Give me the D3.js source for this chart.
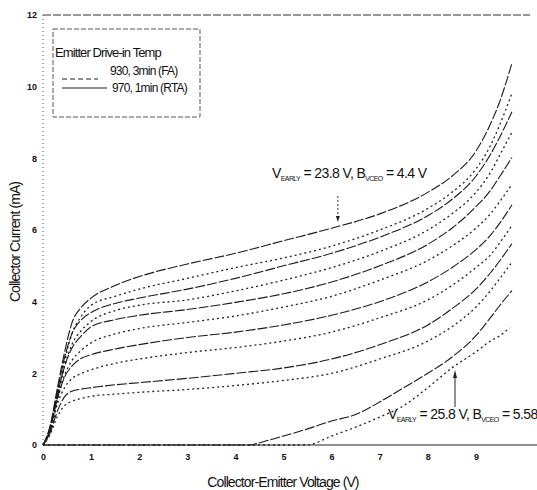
<!DOCTYPE html>
<html>
<head>
<meta charset="utf-8">
<script src="https://cdn.jsdelivr.net/npm/d3@7"></script>
<style>
  body { margin: 0; background: #fff; }
  text { font-family: "Liberation Sans Narrow", "Arial Narrow", "Liberation Sans", sans-serif; fill: #111; }
</style>
</head>
<body>
<div id="chart"></div>
<script>
// Voltage grid shared by the five upper curve pairs (V)
const vGrid = [0, 0.15, 0.3, 0.45, 0.6, 0.8, 1.0, 1.5, 2, 3, 4, 5, 6, 7, 8, 8.5, 9, 9.3, 9.5, 9.75];

// Collector current (mA), 970C 1min RTA (solid)
const rta1 = [0, 0.55, 1.6, 2.6, 3.4, 3.85, 4.1, 4.45, 4.7, 5.05, 5.35, 5.7, 6.05, 6.45, 7.05, 7.5, 8.2, 8.95, 9.6, 10.66];
const rta2 = [0, 0.5, 1.5, 2.45, 3.1, 3.5, 3.7, 3.95, 4.1, 4.35, 4.65, 5.0, 5.35, 5.8, 6.4, 6.85, 7.5, 8.1, 8.6, 9.3];
const rta3 = [0, 0.45, 1.4, 2.2, 2.7, 3.05, 3.3, 3.5, 3.62, 3.78, 3.98, 4.22, 4.55, 5.0, 5.6, 6.05, 6.65, 7.1, 7.5, 8.03];
const rta4 = [0, 0.42, 1.3, 1.9, 2.2, 2.42, 2.52, 2.68, 2.8, 3.0, 3.15, 3.35, 3.62, 4.0, 4.55, 4.95, 5.45, 5.85, 6.2, 6.7];
const rta5 = [0, 0.35, 0.95, 1.35, 1.5, 1.56, 1.6, 1.68, 1.74, 1.86, 2.0, 2.15, 2.4, 2.8, 3.35, 3.8, 4.35, 4.8, 5.15, 5.62];

// Collector current (mA), 930C 3min FA (dashed)
const fa1 = [0, 0.45, 1.4, 2.35, 3.1, 3.6, 3.9, 4.15, 4.35, 4.65, 4.95, 5.22, 5.55, 6.0, 6.6, 7.05, 7.7, 8.35, 8.95, 9.82];
const fa2 = [0, 0.42, 1.3, 2.2, 2.8, 3.2, 3.45, 3.75, 3.9, 4.05, 4.3, 4.6, 4.95, 5.4, 6.0, 6.45, 7.05, 7.6, 8.1, 8.73];
const fa3 = [0, 0.4, 1.25, 1.95, 2.35, 2.65, 2.85, 3.1, 3.25, 3.42, 3.6, 3.85, 4.15, 4.6, 5.15, 5.55, 6.05, 6.45, 6.8, 7.27];
const fa4 = [0, 0.38, 1.15, 1.6, 1.85, 2.0, 2.1, 2.28, 2.4, 2.58, 2.72, 2.9, 3.15, 3.55, 4.05, 4.45, 4.95, 5.3, 5.65, 6.13];
const fa5 = [0, 0.3, 0.8, 1.1, 1.22, 1.3, 1.36, 1.42, 1.47, 1.55, 1.66, 1.8, 2.0, 2.4, 2.9, 3.3, 3.85, 4.3, 4.65, 5.1];

// Lowest pair (breakdown-only curves)
const rta6V = [0, 4.26, 4.6, 5, 5.5, 6, 6.5, 7, 7.5, 8, 8.5, 9, 9.3, 9.5, 9.75];
const rta6 = [0, 0, 0.1, 0.25, 0.45, 0.67, 0.85, 1.2, 1.6, 2.0, 2.45, 3.05, 3.55, 3.9, 4.31];
const fa6V = [0, 5.48, 6, 6.5, 7, 7.5, 8, 8.5, 9, 9.3, 9.5, 9.7];
const fa6 = [0, 0, 0.25, 0.5, 0.78, 1.1, 1.6, 2.15, 2.6, 2.9, 3.05, 3.27];

const xTicks = [0, 1, 2, 3, 4, 5, 6, 7, 8, 9];
const yTicks = [0, 2, 4, 6, 8, 10, 12];
const legendTitle = "Emitter Drive-in Temp";
const legendLabels = ["930, 3min (FA)", "970, 1min (RTA)"];

const width = 537, height = 490;
const svg = d3.select("#chart").append("svg")
    .attr("width", width)
    .attr("height", height);

const x = d3.scaleLinear().domain([0, 10]).range([43, 524]);
const y = d3.scaleLinear().domain([0, 12]).range([445, 15]);

const toPts = (vs, is) => vs.map((v, i) => ({ v: v, i: is[i] }));
const series = [
    { pts: toPts(vGrid, rta1), type: "RTA" },
    { pts: toPts(vGrid, fa1), type: "FA" },
    { pts: toPts(vGrid, rta2), type: "RTA" },
    { pts: toPts(vGrid, fa2), type: "FA" },
    { pts: toPts(vGrid, rta3), type: "RTA" },
    { pts: toPts(vGrid, fa3), type: "FA" },
    { pts: toPts(vGrid, rta4), type: "RTA" },
    { pts: toPts(vGrid, fa4), type: "FA" },
    { pts: toPts(vGrid, rta5), type: "RTA" },
    { pts: toPts(vGrid, fa5), type: "FA" },
    { pts: toPts(rta6V, rta6), type: "RTA" },
    { pts: toPts(fa6V, fa6), type: "FA" }
];

// Frame: top line and left axis (dotted, like the scan)
svg.append("line")
    .attr("x1", x(0)).attr("x2", 530)
    .attr("y1", y(12)).attr("y2", y(12))
    .attr("stroke", "#333").attr("stroke-width", 1)
    .attr("stroke-dasharray", "8,2");
svg.append("line")
    .attr("x1", x(0)).attr("x2", x(0))
    .attr("y1", y(12)).attr("y2", y(0))
    .attr("stroke", "#555").attr("stroke-width", 1)
    .attr("stroke-dasharray", "1,3");

// X axis
const xAxis = svg.append("g")
    .attr("transform", `translate(0,${y(0)})`)
    .call(d3.axisBottom(x).tickValues(xTicks).tickSize(0).tickPadding(9).tickFormat(d3.format("d")));
xAxis.select(".domain").attr("stroke", "#222").attr("stroke-width", 1.2).attr("d", `M${x(0)},0H537`);
xAxis.selectAll("text").style("font-size", "9px").style("font-weight", "bold");

// Y axis labels
const yAxis = svg.append("g")
    .attr("transform", `translate(${x(0)},0)`)
    .call(d3.axisLeft(y).tickValues(yTicks).tickSize(0).tickPadding(6).tickFormat(d3.format("d")));
yAxis.select(".domain").remove();
yAxis.selectAll("text").style("font-size", "9px").style("font-weight", "bold");

// Axis titles
svg.append("text")
    .attr("x", 283).attr("y", 487)
    .attr("text-anchor", "middle")
    .style("font-size", "14px").style("letter-spacing", "-0.9px")
    .text("Collector-Emitter Voltage (V)");
svg.append("text")
    .attr("transform", "translate(20,242) rotate(-90)")
    .attr("text-anchor", "middle")
    .style("font-size", "14px").style("letter-spacing", "-0.9px")
    .text("Collector Current (mA)");

// Curves
const line = d3.line()
    .x(d => x(d.v))
    .y(d => y(d.i))
    .curve(d3.curveMonotoneX);

svg.selectAll("path.curve")
    .data(series)
    .join("path")
    .attr("class", "curve")
    .attr("fill", "none")
    .attr("stroke", d => d.type === "RTA" ? "#1a1a1a" : "#222")
    .attr("stroke-width", d => d.type === "RTA" ? 1.1 : 1.3)
    .attr("stroke-dasharray", d => d.type === "RTA" ? "10,2" : "2,3")
    .attr("d", d => line(d.pts));

// Legend
const lg = svg.append("g");
lg.append("rect")
    .attr("x", 53).attr("y", 29).attr("width", 147).attr("height", 88)
    .attr("fill", "none").attr("stroke", "#444").attr("stroke-width", 0.9)
    .attr("stroke-dasharray", "5,2");
lg.append("text")
    .attr("x", 55).attr("y", 57)
    .style("font-size", "13px").style("letter-spacing", "-0.9px")
    .text(legendTitle);
lg.append("line")
    .attr("x1", 62).attr("x2", 98).attr("y1", 79).attr("y2", 79)
    .attr("stroke", "#222").attr("stroke-width", 1).attr("stroke-dasharray", "5,3");
lg.append("text")
    .attr("x", 110).attr("y", 75)
    .style("font-size", "12px").style("letter-spacing", "-0.8px")
    .text(legendLabels[0]);
lg.append("line")
    .attr("x1", 62).attr("x2", 107).attr("y1", 88).attr("y2", 88)
    .attr("stroke", "#222").attr("stroke-width", 1);
lg.append("text")
    .attr("x", 112).attr("y", 92)
    .style("font-size", "12px").style("letter-spacing", "-0.8px")
    .text(legendLabels[1]);

// Annotations
function annot(px, py, early, bv) {
    const t = svg.append("text").attr("x", px).attr("y", py)
        .style("font-size", "14px").style("letter-spacing", "-0.6px");
    t.append("tspan").text("V");
    t.append("tspan").attr("dy", 3).style("font-size", "7px").text("EARLY");
    t.append("tspan").attr("dy", -3).text(" = " + early + ", B");
    t.append("tspan").attr("dy", 3).style("font-size", "7px").text("VCEO");
    t.append("tspan").attr("dy", -3).text(" = " + bv);
}
annot(272, 178, "23.8 V", "4.4 V");
annot(388, 419, "25.8 V", "5.58");

// Arrows
svg.append("line")
    .attr("x1", x(6.13)).attr("x2", x(6.13))
    .attr("y1", 196).attr("y2", 217)
    .attr("stroke", "#333").attr("stroke-width", 1).attr("stroke-dasharray", "2,2");
svg.append("path")
    .attr("d", `M${x(6.13) - 2},216 L${x(6.13) + 2},216 L${x(6.13)},222 Z`)
    .attr("fill", "#222");
svg.append("line")
    .attr("x1", 455).attr("x2", 455)
    .attr("y1", 407).attr("y2", 376)
    .attr("stroke", "#222").attr("stroke-width", 1);
svg.append("path")
    .attr("d", "M453,378 L457,378 L455,370 Z")
    .attr("fill", "#222");
</script>
</body>
</html>
